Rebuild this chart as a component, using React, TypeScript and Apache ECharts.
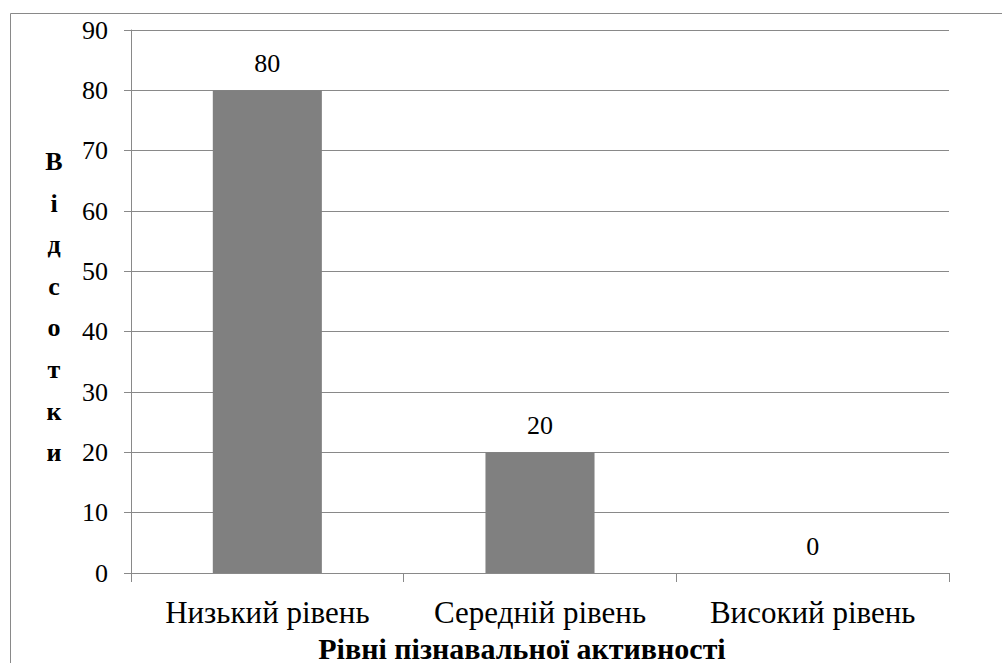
import React, { useEffect, useRef } from "react";
import * as echarts from "echarts";

const categories = ["Низький рівень", "Середній рівень", "Високий рівень"];
const values = [80, 20, 0];
const yTicks = { min: 0, max: 90, interval: 10 };
const xTitle = "Рівні пізнавальної активності";
const yTitle = "Відсотки";

export default function App() {
  const ref = useRef<HTMLDivElement>(null);
  useEffect(() => {
    const chart = echarts.init(ref.current!, null, { renderer: "svg" });
    const font = "Liberation Serif";
    const gray = "#898989";
    chart.setOption({
      animation: false,
      backgroundColor: "#ffffff",
      textStyle: { fontFamily: font },
      grid: { left: 131, right: 53, top: 30, bottom: 90, containLabel: false },
      xAxis: {
        type: "category",
        data: categories,
        axisLine: { show: true, lineStyle: { color: gray, width: 1 } },
        axisTick: { show: true, alignWithLabel: false, interval: 0, length: 9, lineStyle: { color: gray } },
        axisLabel: {
          color: "#000",
          fontSize: 31,
          fontFamily: font,
          margin: 24,
          interval: 0,
          hideOverlap: false,
        },
        splitLine: { show: false },
      },
      yAxis: {
        type: "value",
        min: yTicks.min,
        max: yTicks.max,
        interval: yTicks.interval,
        axisLine: { show: true, lineStyle: { color: gray, width: 1 } },
        axisTick: { show: true, length: 7, lineStyle: { color: gray } },
        axisLabel: { color: "#000", fontSize: 26, fontFamily: font, margin: 23 },
        splitLine: { show: true, lineStyle: { color: gray, width: 1 } },
      },
      series: [
        {
          type: "bar",
          data: values,
          barWidth: "40%",
          itemStyle: { color: "#808080" },
          label: {
            show: true,
            position: "top",
            distance: 14,
            color: "#000",
            fontSize: 26,
            fontFamily: font,
          },
        },
      ],
      graphic: [
        {
          type: "rect",
          shape: { x: 10.5, y: 13.5, width: 1100, height: 800 },
          style: { fill: "none", stroke: gray, lineWidth: 1 },
          z: -1,
        },
        {
          type: "text",
          x: 54,
          y: 307,
          style: {
            text: yTitle.split("").join("\n"),
            fontFamily: font,
            fontWeight: "bold",
            fontSize: 26,
            fill: "#000",
            textAlign: "center",
            textVerticalAlign: "middle",
            lineHeight: 41.6,
          },
        },
        {
          type: "text",
          x: 522,
          y: 648,
          style: {
            text: xTitle,
            fontFamily: font,
            fontWeight: "bold",
            fontSize: 30,
            fill: "#000",
            textAlign: "center",
            textVerticalAlign: "middle",
          },
        },
      ],
    });
    return () => chart.dispose();
  }, []);
  return (
    <div
      ref={ref}
      style={{ position: "fixed", left: 0, top: 0, width: 1002, height: 663, overflow: "hidden" }}
    />
  );
}
